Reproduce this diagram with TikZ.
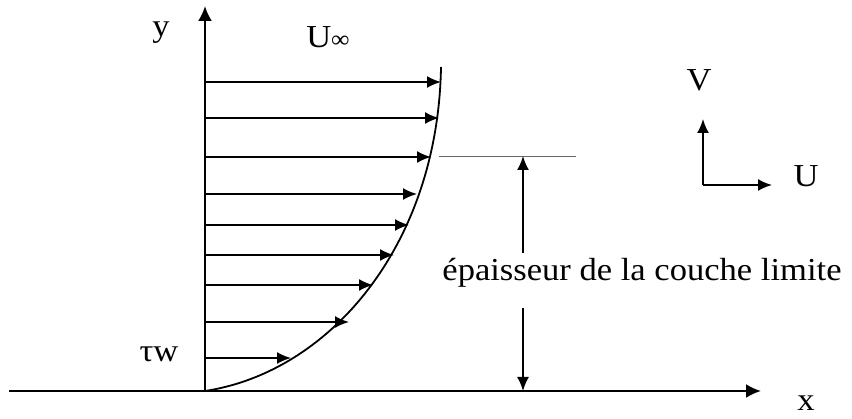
\documentclass[tikz,border=0pt]{standalone}
\usepackage{fontspec}
\setmainfont[FakeStretch=1.08]{Liberation Serif}
\usetikzlibrary{arrows.meta}
\begin{document}
\begin{tikzpicture}[x=1pt,y=-1pt,
  axis/.style={line width=2.2pt,-{Latex[length=15pt,width=14pt]}},
  vec/.style={line width=1.8pt,-{Latex[length=14pt,width=12pt]}},
  lbl/.style={font=\fontsize{32}{36}\selectfont,inner sep=0pt}]
\useasboundingbox (0,0) rectangle (852,419);
\coordinate (O) at (205,391);
\coordinate (xs) at (9,391);
\coordinate (xe) at (761,391);
\coordinate (ye) at (205,6);
\draw[axis] (xs) -- (xe);
\draw[axis] (O) -- (ye);
% velocity profile arrows
\foreach \yy/\xx [count=\i] in {82/441,118/439,157/431,194/417,225/409,255/394,285/373,322/349,358/291}{
  \coordinate (s\i) at (205,\yy);
  \coordinate (t\i) at (\xx,\yy);
  \draw[vec] (s\i) -- (t\i);
}
% profile curve
\coordinate (top) at (441,67);
\draw[line width=1.8pt] (O) .. controls (330,372) and (438,245) .. (top);
% boundary-layer edge
\coordinate (d1) at (439,156);
\coordinate (d2) at (576,156);
\draw[line width=0.9pt,black!60] (d1) -- (d2);
% thickness arrow
\node[lbl,anchor=base] (ep) at (642,281) {épaisseur de la couche limite};
\coordinate (a1) at (523,156);
\coordinate (a2) at (523,391);
\coordinate (b1) at (523,253);
\coordinate (b2) at (523,308);
\draw[vec] (b1) -- (a1);
\draw[vec] (b2) -- (a2);
% U V frame
\coordinate (c) at (703,185);
\coordinate (cv) at (703,119);
\coordinate (cu) at (772,185);
\draw[vec] (c) -- (cv);
\draw[vec] (c) -- (cu);
\node[lbl] (V) at (699,80) {V};
\node[lbl] (U) at (806,176) {U};
% labels
\node[lbl] (y) at (161,33) {y};
\node[lbl,anchor=base] (Uinf) at (328,48) {U{\fontsize{24}{26}\selectfont ∞}};
\node[lbl,anchor=base] (tw) at (159,362) {τw};
\node[lbl,anchor=base] (x) at (806,411) {x};
\end{tikzpicture}
\end{document}
